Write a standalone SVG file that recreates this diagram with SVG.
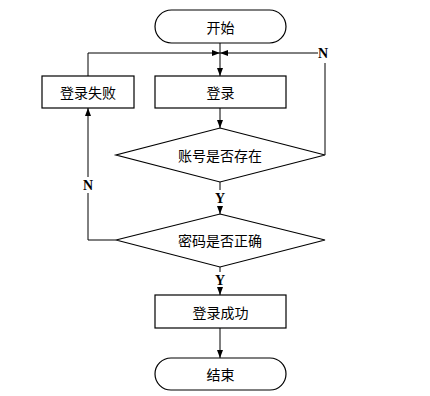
<svg xmlns="http://www.w3.org/2000/svg" width="430" height="396" viewBox="0 0 430 396">
<style>
.shape{fill:#fff;stroke:#000;stroke-width:1.2}
.line{fill:none;stroke:#000;stroke-width:1}
.t{font-family:"Noto Sans CJK SC","Noto Sans CJK JP",sans-serif;font-size:14px;fill:#000;text-anchor:middle;dominant-baseline:central}
.yn{font-family:"Liberation Serif",serif;font-weight:bold;font-size:14px;fill:#000;text-anchor:middle;dominant-baseline:central}
</style>
<defs>
<marker id="arr" viewBox="0 0 8 6" refX="8" refY="3" markerWidth="8" markerHeight="6" markerUnits="userSpaceOnUse" orient="auto">
<path d="M0,0 L8,3 L0,6 Z" fill="#000"/>
</marker>
</defs>
<rect width="430" height="396" fill="#fff"/>
<g id="connectors">
<path class="line" d="M220,43 V76" marker-end="url(#arr)"/>
<path class="line" d="M88,76 V53 H220" marker-end="url(#arr)"/>
<path class="line" d="M325,155 V63"/>
<path class="line" d="M318,53 H220" marker-end="url(#arr)"/>
<path class="line" d="M220,108 V128" marker-end="url(#arr)"/>
<path class="line" d="M220,182 V190"/>
<path class="line" d="M220,206 V214" marker-end="url(#arr)"/>
<path class="line" d="M116,240 H88 V193"/>
<path class="line" d="M88,177 V108" marker-end="url(#arr)"/>
<path class="line" d="M220,267 V272"/>
<path class="line" d="M220,288 V295" marker-end="url(#arr)"/>
<path class="line" d="M220,328 V358" marker-end="url(#arr)"/>
<text class="yn" x="323" y="53">N</text>
<text class="yn" x="220" y="198">Y</text>
<text class="yn" x="88" y="185">N</text>
<text class="yn" x="220" y="280">Y</text>
</g>
<g id="start"><rect class="shape" x="155" y="10" width="131" height="33" rx="16.5"/><text class="t" x="220.5" y="26.5">开始</text></g>
<g id="fail"><rect class="shape" x="42" y="76" width="92" height="32"/><text class="t" x="88" y="92">登录失败</text></g>
<g id="login"><rect class="shape" x="155" y="76" width="131" height="32"/><text class="t" x="220.5" y="92">登录</text></g>
<g id="check-account"><polygon class="shape" points="220,128 325,155 220,182 116,155"/><text class="t" x="220" y="155">账号是否存在</text></g>
<g id="check-password"><polygon class="shape" points="220,214 325,240 220,267 116,240"/><text class="t" x="220" y="240">密码是否正确</text></g>
<g id="success"><rect class="shape" x="155" y="295" width="131" height="33"/><text class="t" x="220.5" y="311.5">登录成功</text></g>
<g id="end"><rect class="shape" x="155" y="358" width="131" height="32" rx="16"/><text class="t" x="220.5" y="374">结束</text></g>
</svg>
